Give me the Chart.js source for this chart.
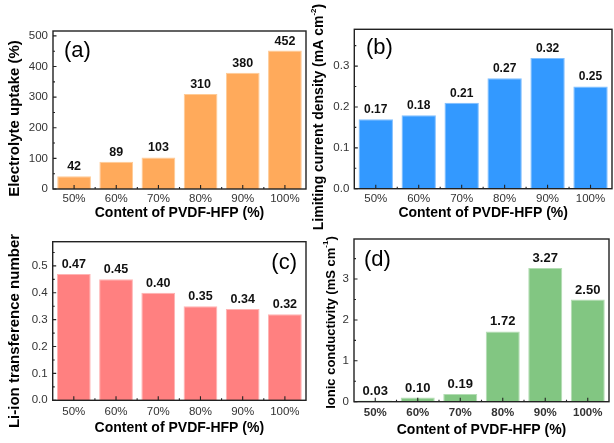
<!DOCTYPE html>
<html>
<head>
<meta charset="utf-8">
<script src="https://cdn.jsdelivr.net/npm/chart.js@4.4.1/dist/chart.umd.min.js"></script>
<style>
  body { margin: 0; background: #fff; }
  #wrap { position: relative; width: 614px; height: 443px; overflow: hidden; }
  canvas { position: absolute; }
</style>
</head>
<body>
<div id="wrap">
  <canvas id="chartA" style="left:0;top:0" width="308" height="222"></canvas>
  <canvas id="chartC" style="left:0;top:222px" width="308" height="221"></canvas>
  <canvas id="chartD" style="left:300px;top:222px" width="314" height="221"></canvas>
  <canvas id="chartB" style="left:300px;top:0" width="314" height="232"></canvas>
</div>
<script>
// data
const contents = ['50%', '60%', '70%', '80%', '90%', '100%'];
const uptake = [42, 89, 103, 310, 380, 452];
const limitingCurrent = [0.17, 0.18, 0.21, 0.27, 0.32, 0.25];
const transference = [0.47, 0.45, 0.40, 0.35, 0.34, 0.32];
const conductivity = [0.03, 0.10, 0.19, 1.72, 3.27, 2.50];

const xTitle = 'Content of PVDF-HFP (%)';
const FONT = "'Liberation Sans', Arial, sans-serif";

// frame, inward ticks, value labels, panel letter, y title
const deco = {
  id: 'deco',
  afterDatasetsDraw(chart, args, o) {
    const ctx = chart.ctx;
    const a = chart.chartArea;
    const xs = chart.scales.x, ys = chart.scales.y;
    ctx.save();
    ctx.strokeStyle = '#222';
    ctx.lineWidth = 1.4;
    ctx.strokeRect(a.left, a.top, a.right - a.left, a.bottom - a.top);

    ctx.lineWidth = 1.1;
    ctx.beginPath();
    // y ticks, major + minor
    const t = ys.ticks.map(k => k.value);
    t.forEach((v, i) => {
      const py = ys.getPixelForValue(v);
      ctx.moveTo(a.left, py); ctx.lineTo(a.left + 3.5, py);
      const step = t.length > 1 ? t[1] - t[0] : 0;
      const mid = v + step / 2;
      if (step && mid < ys.max) {
        const pm = ys.getPixelForValue(mid);
        ctx.moveTo(a.left, pm); ctx.lineTo(a.left + 2, pm);
      }
    });
    // x ticks at centres, small ones between bars
    const n = chart.data.labels.length;
    for (let i = 0; i < n; i++) {
      const px = xs.getPixelForValue(i);
      ctx.moveTo(px, a.bottom); ctx.lineTo(px, a.bottom - 4);
      if (i > 0) {
        const pb = (px + xs.getPixelForValue(i - 1)) / 2;
        ctx.moveTo(pb, a.bottom); ctx.lineTo(pb, a.bottom - 2);
      }
    }
    ctx.stroke();

    // value labels
    const meta = chart.getDatasetMeta(0);
    const vals = chart.data.datasets[0].data;
    ctx.fillStyle = '#111';
    ctx.font = 'bold ' + o.valueSize + 'px ' + FONT;
    ctx.textAlign = 'center';
    ctx.textBaseline = 'middle';
    meta.data.forEach((el, i) => {
      ctx.fillText(vals[i].toFixed(o.valueDec), el.x, el.y - 9.5);
    });

    // panel letter
    ctx.font = '22px ' + FONT;
    ctx.fillStyle = '#000';
    ctx.textAlign = o.labelAlign;
    ctx.fillText(o.label, o.labelX, o.labelY);

    // y title with superscript
    ctx.translate(o.yTitleX, o.yTitleY);
    ctx.rotate(-Math.PI / 2);
    const big = 'bold ' + o.yTitleSize + 'px ' + FONT;
    const small = 'bold ' + Math.round(o.yTitleSize * 0.6) + 'px ' + FONT;
    let total = 0;
    o.yTitle.forEach(p => { ctx.font = p.sup ? small : big; total += ctx.measureText(p.text).width; });
    let x = -total / 2;
    ctx.textAlign = 'left';
    o.yTitle.forEach(p => {
      ctx.font = p.sup ? small : big;
      ctx.fillText(p.text, x, p.sup ? -o.yTitleSize * 0.38 : 0);
      x += ctx.measureText(p.text).width;
    });
    ctx.restore();
  }
};

function makeChart(id, values, fill, edge, y, g, d) {
  return new Chart(document.getElementById(id), {
    type: 'bar',
    data: {
      labels: contents,
      datasets: [{
        data: values,
        backgroundColor: fill,
        borderColor: edge,
        borderWidth: 1,
        barPercentage: 0.8,
        categoryPercentage: 1
      }]
    },
    plugins: [deco],
    options: {
      responsive: false,
      animation: false,
      events: [],
      layout: { padding: g.pad },
      plugins: {
        legend: { display: false },
        tooltip: { enabled: false },
        deco: d
      },
      scales: {
        x: {
          grid: { display: false, drawTicks: false },
          border: { display: false },
          ticks: {
            color: '#333',
            padding: g.tickPad,
            maxRotation: 0,
            font: { family: FONT, size: 11.5, weight: g.xBold ? 'bold' : 'normal' }
          },
          title: {
            display: true,
            text: xTitle,
            color: '#000',
            padding: { top: 0, bottom: g.titlePad },
            font: { family: FONT, size: 14, weight: 'bold' }
          },
          afterFit: s => { s.height = g.xh; }
        },
        y: {
          min: 0,
          max: y.max,
          grid: { display: false, drawTicks: false },
          border: { display: false },
          ticks: {
            stepSize: y.step,
            includeBounds: false,
            color: '#333',
            padding: 5,
            font: { family: FONT, size: 11.5 },
            callback: v => Number(v).toFixed(y.dec)
          },
          afterFit: s => { s.width = g.yw; }
        }
      }
    }
  });
}

makeChart('chartA', uptake, '#FFAA5B', '#FFCB96',
  { max: 516, step: 100, dec: 0 },
  { pad: { left: 0, top: 31, right: 2, bottom: 0 }, yw: 53, xh: 33, tickPad: 3.4, titlePad: 0.6 },
  { valueDec: 0, valueSize: 12.5, label: '(a)', labelX: 64, labelY: 51, labelAlign: 'left',
    yTitle: [{ text: 'Electrolyte uptake (%)' }], yTitleX: 15, yTitleY: 118.5, yTitleSize: 15 });

makeChart('chartC', transference, '#FF8080', '#FFB3B3',
  { max: 0.59, step: 0.1, dec: 1 },
  { pad: { left: 0, top: 19.7, right: 2, bottom: 0 }, yw: 52.7, xh: 42.7, tickPad: 4.5, titlePad: 6.6 },
  { valueDec: 2, valueSize: 12.5, label: '(c)', labelX: 297, labelY: 40.7, labelAlign: 'right',
    yTitle: [{ text: 'Li-ion transference number' }], yTitleX: 15, yTitleY: 109, yTitleSize: 15 });

makeChart('chartD', conductivity, '#82C682', '#B3DDB3',
  { max: 3.98, step: 1, dec: 0 },
  { pad: { left: 0, top: 17, right: 5, bottom: 0 }, yw: 54, xh: 41.3, tickPad: 4.4, titlePad: 4.6, xBold: true },
  { valueDec: 2, valueSize: 13, label: '(d)', labelX: 64, labelY: 38, labelAlign: 'left',
    yTitle: [{ text: 'Ionic conductivity (mS cm' }, { text: '-1', sup: true }, { text: ')' }],
    yTitleX: 31, yTitleY: 100.5, yTitleSize: 13 });

makeChart('chartB', limitingCurrent, '#3399FF', '#80BFFF',
  { max: 0.39, step: 0.1, dec: 1 },
  { pad: { left: 0, top: 29.3, right: 2, bottom: 0 }, yw: 54.3, xh: 43.3, tickPad: 3.4, titlePad: 10.6 },
  { valueDec: 2, valueSize: 12, label: '(b)', labelX: 66, labelY: 48, labelAlign: 'left',
    yTitle: [{ text: 'Limiting current density (mA cm' }, { text: '-2', sup: true }, { text: ')' }],
    yTitleX: 19, yTitleY: 117, yTitleSize: 14 });
</script>
</body>
</html>
